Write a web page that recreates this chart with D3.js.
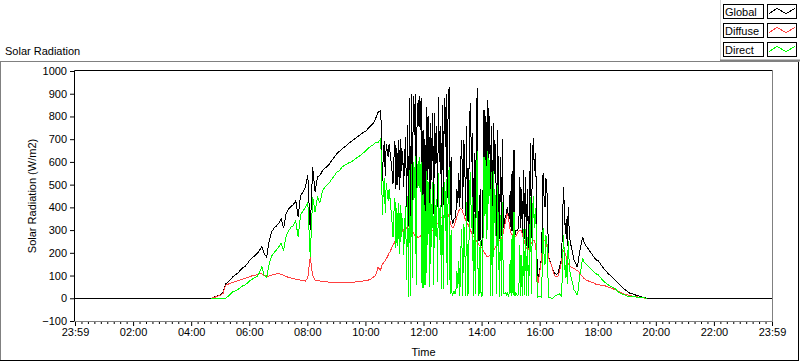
<!DOCTYPE html>
<html>
<head>
<meta charset="utf-8">
<script src="https://cdn.jsdelivr.net/npm/d3@7"></script>
<style>
  body { margin: 0; background: #fff; }
  svg text { font-family: "Liberation Sans", Arial, sans-serif; font-size: 11px; fill: #000; }
</style>
</head>
<body>
<div id="chart"></div>
<script>
// series shown in the legend, in drawing order
var seriesNames = ["Global", "Diffuse", "Direct"];
var seriesColors = ["#000000", "#ff4040", "#00ff00"];

// time axis labels (every 2 hours, 23:59 to 23:59)
var xTickLabels = ["23:59", "02:00", "04:00", "06:00", "08:00", "10:00", "12:00",
                   "14:00", "16:00", "18:00", "20:00", "22:00", "23:59"];
var yTicks = [-100, 0, 100, 200, 300, 400, 500, 600, 700, 800, 900, 1000];

// logging windows in minutes of the day: [first, last, step]
// 04:40-10:25 every 5 min, 10:30-17:30 every 2 min, 17:35-19:40 every 5 min
var sampleSegments = [[280, 625, 5], [630, 1050, 2], [1055, 1180, 5]];

// W/m2, one value per sample, zero outside the windows
var globalValues = [
  // morning
  0, 4, 8, 12, 16, 25, 62, 72, 82, 94, 102, 110,
  122, 134, 140, 152, 168, 178, 186, 196, 210, 228, 196, 182,
  250, 292, 308, 318, 330, 350, 308, 372, 392, 404, 412, 430,
  360, 452, 468, 488, 540, 300, 578, 470, 534, 540, 560, 572,
  580, 592, 608, 622, 636, 646, 656, 664, 672, 682, 690, 698,
  706, 714, 722, 730, 735, 748, 760, 770, 790, 818,
  // midday
  826, 760, 515, 640, 690,  540, 680, 650, 620, 680,
  640, 600, 560, 505, 620,  690, 480, 660, 500, 696,
  476, 700, 560, 650, 490,  620, 710, 400, 762, 320,
  880, 320, 900, 400, 890,  720, 900, 330, 860, 760,
  890, 740, 879, 329, 740,  330, 700, 350, 843, 520,
  800, 340, 769, 520, 813,  370, 813, 593, 760, 400,
  887, 600, 760, 400, 850,  410, 880, 666, 900, 440,
  860, 931, 365, 620, 330,  330, 350, 350, 380, 480,
  420, 549, 400, 600, 696,  395, 696, 640, 360, 760,
  345, 340, 780, 857, 600,  725, 285, 640, 280, 720,
  923, 255, 255, 480, 235,  230, 480, 828, 560, 800,
  446, 872, 600, 800, 210,  760, 220, 769, 549, 680,
  255, 740, 500, 262, 620,  275, 700, 310, 330, 360,
  370, 400, 370, 350, 470,  295, 560, 290, 652, 280,
  300, 300, 300, 330, 534,  310, 480, 285, 564, 260,
  534, 232, 480, 223, 420,  681, 265, 620, 703, 560,
  637, 500, 65, 80, 110,    138, 165, 300, 549, 450,
  400, 527, 480, 300, 180,  165, 155, 140, 125, 115,
  110, 108, 106, 110, 115,  140, 153, 170, 300, 490,
  400, 285, 350, 230, 402,  300, 250, 230, 211, 190,
  167, 160, 150, 138, 150,  180, 211, 230, 250, 270,
  250,
  // evening
  230, 215, 200, 185, 170, 165, 150, 135, 122, 110,
  100, 90, 80, 70, 58, 48, 38, 30, 23, 20,
  16, 12, 9, 6, 3, 0
];

var diffuseValues = [
  // morning
  0, 3, 6, 10, 14, 22, 58, 62, 66, 70, 74, 77,
  80, 84, 88, 91, 95, 99, 101, 104, 107, 108, 100, 96,
  98, 102, 104, 107, 108, 106, 100, 96, 92, 89, 86, 84,
  82, 80, 79, 76, 90, 182, 100, 80, 78, 76, 74, 73,
  72, 71, 70, 70, 70, 70, 70, 70, 70, 70, 70, 71,
  72, 72, 74, 76, 78, 80, 84, 92, 100, 135,
  // midday
  125, 135, 150, 155, 160,  165, 175, 180, 190, 200,
  205, 215, 225, 235, 241,  250, 258, 262, 270, 278,
  282, 288, 292, 298, 300,  305, 302, 310, 312, 314,
  314, 312, 308, 300, 290,  280, 275, 272, 270, 268,
  270, 272, 278, 285, 283,  285, 288, 285, 282, 285,
  288, 285, 290, 295, 300,  305, 310, 318, 325, 329,
  335, 342, 350, 355, 360,  365, 368, 372, 375, 373,
  370, 355, 340, 320, 314,  310, 318, 330, 345, 360,
  375, 385, 392, 395, 390,  380, 370, 355, 345, 335,
  329, 320, 310, 300, 290,  280, 272, 270, 262, 255,
  248, 240, 235, 228, 226,  220, 212, 205, 198, 190,
  185, 182, 185, 190, 198,  205, 210, 211, 218, 225,
  232, 240, 248, 255, 255,  262, 275, 290, 310, 335,
  355, 373, 360, 330, 300,  285, 280, 275, 272, 270,
  275, 282, 290, 295, 300,  300, 290, 275, 260, 245,
  230, 220, 211, 215, 225,  235, 245, 250, 255, 252,
  240, 200, 65, 70, 100,    130, 160, 200, 240, 255,
  255, 250, 230, 200, 175,  160, 153, 140, 125, 110,
  100, 96, 94, 94, 100,     120, 140, 160, 190, 211,
  205, 195, 180, 165, 150,  145, 140, 138, 135, 132,
  130, 128, 125, 123, 120,  115, 110, 105, 98, 94,
  88,
  // evening
  80, 76, 72, 68, 62, 60, 58, 56, 54, 50,
  46, 42, 38, 32, 27, 22, 18, 15, 12, 10,
  8, 6, 4, 3, 1, 0
];

var directValues = [
  // morning
  0, 0, 0, 0, 0, 0, 0, 8, 18, 28, 32, 38,
  46, 54, 58, 66, 78, 84, 90, 96, 112, 140, 100, 92,
  150, 186, 200, 212, 226, 242, 210, 272, 296, 312, 320, 340,
  270, 366, 384, 400, 420, 180, 446, 380, 446, 420, 470, 488,
  500, 510, 526, 540, 556, 560, 576, 584, 590, 596, 600, 608,
  616, 624, 630, 640, 650, 660, 668, 676, 684, 684,
  // midday
  700, 625, 365, 485, 530,  375, 505, 470, 430, 480,
  435, 385, 335, 270, 380,  440, 222, 398, 230, 418,
  194, 412, 268, 352, 190,  315, 408, 80, 450, 6,
  566, 8, 592, 90, 600,     440, 625, 60, 590, 492,
  620, 468, 600, 44, 457,   45, 412, 60, 561, 235,
  512, 50, 479, 225, 513,   60, 503, 275, 435, 70,
  552, 258, 410, 40, 490,   40, 512, 294, 525, 60,
  490, 576, 20, 300, 10,    20, 32, 20, 35, 120,
  45, 164, 10, 205, 306,    10, 326, 285, 10, 425,
  15, 20, 470, 557, 310,    445, 10, 370, 18, 465,
  650, 10, 20, 252, 5,      10, 268, 623, 362, 610,
  261, 650, 415, 610, 10,   555, 8, 558, 331, 455,
  20, 500, 252, 5, 365,     10, 425, 20, 20, 25,
  15, 25, 10, 20, 170,      10, 280, 15, 380, 8,
  25, 15, 10, 35, 234,      10, 190, 10, 304, 15,
  304, 12, 269, 8, 195,     446, 20, 370, 448, 308,
  397, 300, 0, 10, 10,      8, 5, 100, 309, 195,
  145, 277, 250, 100, 5,    5, 2, 0, 0, 5,
  10, 12, 12, 16, 15,       20, 13, 10, 110, 279,
  195, 90, 170, 65, 252,    155, 110, 92, 76, 58,
  37, 32, 25, 15, 30,       65, 101, 125, 152, 176,
  162,
  // evening
  150, 140, 130, 118, 108, 103, 90, 78, 68, 60,
  54, 48, 42, 30, 24, 18, 14, 10, 8, 7,
  6, 5, 4, 3, 2, 0
];

solarChart();

function solarChart() {
  var width = 800, height = 361;
  var svg = d3.select("#chart").append("svg")
      .attr("width", width)
      .attr("height", height);

  // plot area
  var plot = {left: 75, top: 71, right: 772, bottom: 321};

  // minutes from 23:59 of the previous day to 23:59
  var dayStart = -1, dayEnd = 1439;
  var x = d3.scaleLinear().domain([dayStart, dayEnd]).range([plot.left, plot.right]);
  var y = d3.scaleLinear().domain([-100, 1000]).range([plot.bottom, plot.top]);

  // sample times of the logged values
  var sampleMinutes = [];
  sampleSegments.forEach(function(s) {
    sampleMinutes = sampleMinutes.concat(d3.range(s[0], s[1] + 1, s[2]));
  });

  // title
  svg.append("text").attr("x", 5).attr("y", 55).text("Solar Radiation");

  // outer panel frame: grey top/left, black bottom/right
  svg.append("line").attr("x1", 0).attr("x2", 799).attr("y1", 61.5).attr("y2", 61.5)
      .attr("stroke", "#808080");
  svg.append("line").attr("x1", 0.5).attr("x2", 0.5).attr("y1", 61).attr("y2", 361)
      .attr("stroke", "#808080");
  svg.append("line").attr("x1", 798.5).attr("x2", 798.5).attr("y1", 62).attr("y2", 361)
      .attr("stroke", "#000");
  svg.append("line").attr("x1", 0).attr("x2", 799).attr("y1", 360.5).attr("y2", 360.5)
      .attr("stroke", "#000");

  // y axis
  var yAxis = svg.append("g")
      .attr("transform", "translate(" + plot.left + ",0)")
      .call(d3.axisLeft(y).tickValues(yTicks).tickFormat(d3.format("d"))
        .tickSize(5).tickSizeOuter(0).tickPadding(3));
  yAxis.select(".domain").remove();
  yAxis.selectAll("text").style("font-size", "11px");

  // x axis: major ticks with labels, minor ticks between
  var majorTicks = xTickLabels.map(function(d, i) {
    return dayStart + i * (dayEnd - dayStart) / (xTickLabels.length - 1);
  });
  var minorTicks = [];
  majorTicks.slice(1).forEach(function(t, i) {
    var a = majorTicks[i], step = (t - a) / 9;
    for (var k = 1; k < 9; k++) minorTicks.push(a + k * step);
  });

  var xAxis = svg.append("g")
      .attr("transform", "translate(0," + plot.bottom + ")")
      .call(d3.axisBottom(x).tickValues(majorTicks)
        .tickFormat(function(d, i) { return xTickLabels[i]; })
        .tickSize(5).tickSizeOuter(0).tickPadding(2));
  xAxis.select(".domain").remove();
  xAxis.selectAll("text").style("font-size", "11px");

  var xMinor = svg.append("g")
      .attr("transform", "translate(0," + plot.bottom + ")")
      .call(d3.axisBottom(x).tickValues(minorTicks).tickFormat("").tickSize(3).tickSizeOuter(0));
  xMinor.select(".domain").remove();

  // axis titles
  svg.append("text")
      .attr("transform", "translate(36," + ((plot.top + plot.bottom) / 2) + ") rotate(-90)")
      .attr("text-anchor", "middle")
      .text("Solar Radiation (W/m2)");
  svg.append("text")
      .attr("x", (plot.left + plot.right) / 2)
      .attr("y", 356)
      .attr("text-anchor", "middle")
      .text("Time");

  // data lines
  var line = d3.line()
      .x(function(d) { return x(d.t); })
      .y(function(d) { return y(d.v); });

  function toPoints(values) {
    return values.map(function(v, i) { return {t: sampleMinutes[i], v: v}; });
  }

  // global runs the whole day; diffuse/direct only while logged
  var globalPoints = [{t: dayStart, v: 0}].concat(toPoints(globalValues), [{t: dayEnd, v: 0}]);
  var allSeries = [globalPoints, toPoints(diffuseValues), toPoints(directValues)];

  var lines = svg.append("g");
  allSeries.forEach(function(pts, i) {
    lines.append("path")
        .datum(pts)
        .attr("fill", "none")
        .attr("stroke", seriesColors[i])
        .attr("stroke-width", 1)
        .attr("shape-rendering", "crispEdges")
        .attr("d", line);
  });

  // plot border: black top/left, grey bottom/right
  svg.append("line").attr("x1", plot.left - 0.5).attr("x2", plot.right).attr("y1", plot.top - 0.5).attr("y2", plot.top - 0.5)
      .attr("stroke", "#000");
  svg.append("line").attr("x1", plot.left - 0.5).attr("x2", plot.left - 0.5).attr("y1", plot.top - 0.5).attr("y2", plot.bottom)
      .attr("stroke", "#000");
  svg.append("line").attr("x1", plot.right + 0.5).attr("x2", plot.right + 0.5).attr("y1", plot.top - 1).attr("y2", plot.bottom + 1)
      .attr("stroke", "#808080");
  svg.append("line").attr("x1", plot.left - 1).attr("x2", plot.right + 1).attr("y1", plot.bottom + 0.5).attr("y2", plot.bottom + 0.5)
      .attr("stroke", "#808080");

  // legend
  var legend = svg.append("g");
  legend.append("line").attr("x1", 720.5).attr("x2", 720.5).attr("y1", 0).attr("y2", 60)
      .attr("stroke", "#d4d4d4");
  legend.append("rect").attr("x", 720).attr("y", 59.5).attr("width", 80).attr("height", 2)
      .attr("fill", "#808080");

  var swatch = d3.line();
  seriesNames.forEach(function(name, i) {
    var top = 4.5 + i * 19;
    legend.append("rect")
        .attr("x", 723.5).attr("y", top).attr("width", 40).attr("height", 14)
        .attr("fill", "#fff").attr("stroke", "#000");
    legend.append("text")
        .attr("x", 725).attr("y", top + 11)
        .text(name);
    legend.append("rect")
        .attr("x", 767.5).attr("y", top).attr("width", 29).attr("height", 14)
        .attr("fill", "#fff").attr("stroke", "#000");
    legend.append("path")
        .attr("d", swatch([[769, top + 9], [777, top + 4], [786, top + 9], [795, top + 4]]))
        .attr("fill", "none")
        .attr("stroke", seriesColors[i])
        .attr("shape-rendering", "crispEdges");
  });
}
</script>
</body>
</html>
